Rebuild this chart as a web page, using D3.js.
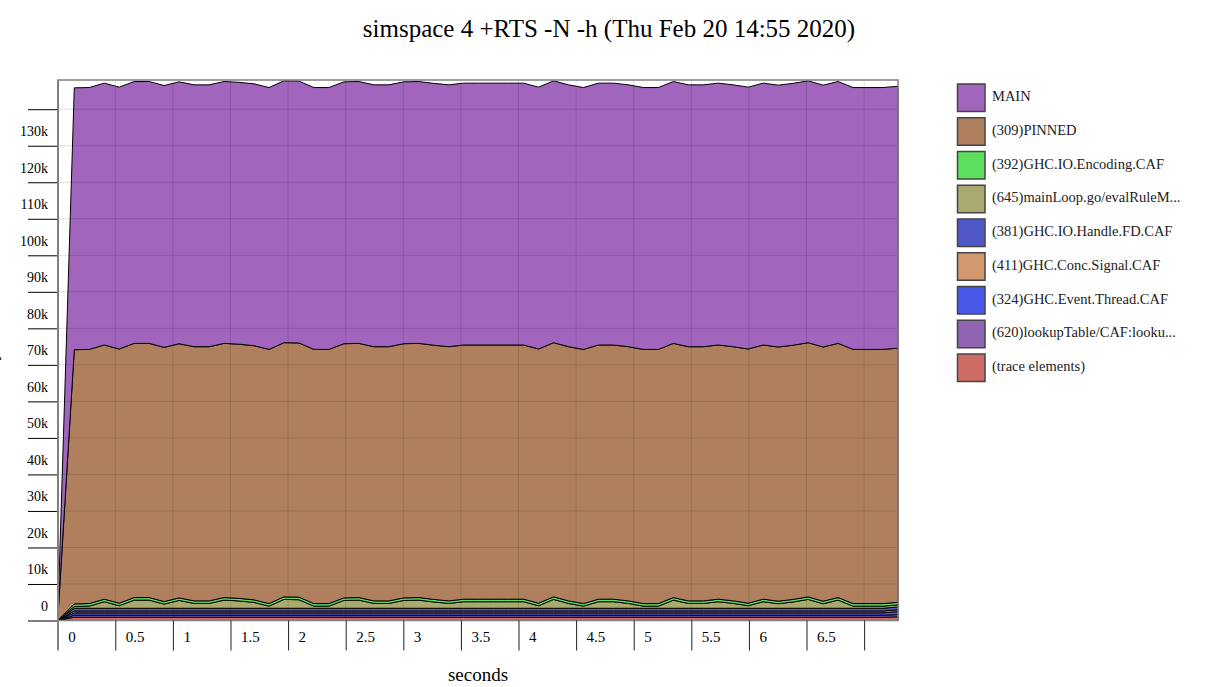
<!DOCTYPE html>
<html><head><meta charset="utf-8">
<script src="https://cdn.jsdelivr.net/npm/d3@7"></script>
<style>body{margin:0;background:#fff}svg{display:block}</style>
</head><body>
<svg id="c" width="1216" height="687"></svg>
<script>
// ---- data ----
const seriesNames = ["(trace elements)", "(620)lookupTable/CAF:looku...", "(324)GHC.Event.Thread.CAF",
  "(411)GHC.Conc.Signal.CAF", "(381)GHC.IO.Handle.FD.CAF", "(645)mainLoop.go/evalRuleM...",
  "(392)GHC.IO.Encoding.CAF", "(309)PINNED", "MAIN"];
const seriesColors = ["#cc6c64", "#9064b0", "#4858e8", "#d2986e", "#5058c8", "#aaaa70", "#5de05d", "#b0805e", "#a165be"];

const times = [0,
  0.144, 0.274, 0.404, 0.534, 0.664, 0.794, 0.924, 1.054, 1.184, 1.314,
  1.444, 1.574, 1.704, 1.834, 1.964, 2.094, 2.224, 2.354, 2.484, 2.614,
  2.744, 2.874, 3.004, 3.134, 3.264, 3.394, 3.524, 3.654, 3.784, 3.914,
  4.044, 4.174, 4.304, 4.434, 4.564, 4.694, 4.824, 4.954, 5.084, 5.214,
  5.344, 5.474, 5.604, 5.734, 5.864, 5.994, 6.124, 6.254, 6.384, 6.514,
  6.644, 6.774, 6.904, 7.034, 7.164, 7.294];

const traceElements = [0,
  900,900,900,900,900,900,900,900,900,900,
  900,900,900,900,900,900,900,900,900,900,
  900,900,900,900,900,900,900,900,900,900,
  900,900,900,900,900,900,900,900,900,900,
  900,900,900,900,900,900,900,900,900,900,
  900,900,900,900,900,1000];
const lookupTable = [0,
  550,550,550,550,550,550,550,550,550,550,
  550,550,550,550,550,550,550,550,550,550,
  550,550,550,550,550,550,550,550,550,550,
  550,550,550,550,550,550,550,550,550,550,
  550,550,550,550,550,550,550,550,550,550,
  550,550,550,550,550,600];
const eventThread = [0,
  650,650,650,650,650,650,650,650,650,650,
  650,650,650,650,650,650,650,650,650,650,
  650,650,650,650,650,650,650,650,650,650,
  650,650,650,650,650,650,650,650,650,650,
  650,650,650,650,650,650,650,650,650,650,
  650,650,650,650,650,850];
const concSignal = [0,
  500,500,500,500,500,500,500,500,500,500,
  500,500,500,500,500,500,500,500,500,500,
  500,500,500,500,500,500,500,500,500,500,
  500,500,500,500,500,500,500,500,500,500,
  500,500,500,500,500,500,500,500,500,500,
  500,500,500,500,500,500];
const handleFD = [0,
  750,750,750,750,750,750,750,750,750,750,
  750,750,750,750,750,750,750,750,750,750,
  750,750,750,750,750,750,750,750,750,750,
  750,750,750,750,750,750,750,750,750,750,
  750,750,750,750,750,750,750,750,750,750,
  750,750,750,750,750,750];
const mainLoop = [0,
  500,580,1790,690,2230,2230,1130,2140,1320,1320,
  2230,2010,1600,580,2420,2340,580,580,2140,2230,
  1320,1320,2140,2230,1730,1320,1790,1790,1790,1790,
  1790,690,2420,1320,580,1790,1790,1320,580,580,
  2230,1320,1320,1790,1320,690,1790,1240,1730,2420,
  1240,2230,580,580,580,580];
const ioEncoding = [0,
  700,700,700,700,700,700,700,700,700,700,
  700,700,700,700,700,700,700,700,700,700,
  700,700,700,700,700,700,700,700,700,700,
  700,700,700,700,700,700,700,700,700,700,
  700,700,700,700,700,700,700,700,700,700,
  700,700,700,700,700,700];
const pinned = [0,
  69600,69600,69600,69600,69600,69600,69600,69600,69600,69600,
  69600,69600,69600,69600,69600,69600,69600,69600,69600,69600,
  69600,69600,69600,69600,69600,69600,69600,69600,69600,69600,
  69600,69600,69600,69600,69600,69600,69600,69600,69600,69600,
  69600,69600,69600,69600,69600,69600,69600,69600,69600,69600,
  69600,69600,69600,69600,69600,69600];
const mainCC = [0,
  71700,71700,71700,71700,71700,71700,71700,71700,71700,71700,
  71700,71700,71700,71700,71700,71700,71700,71700,71700,71700,
  71700,71700,71700,71700,71700,71700,71700,71700,71700,71700,
  71700,71700,71700,71700,71700,71700,71700,71700,71700,71700,
  71700,71700,71700,71700,71700,71700,71700,71700,71700,71700,
  71700,71700,71700,71700,71700,71700];

const xTicks = [0, 0.5, 1, 1.5, 2, 2.5, 3, 3.5, 4, 4.5, 5, 5.5, 6, 6.5, 7];
const yTicks = [0, 10000, 20000, 30000, 40000, 50000, 60000, 70000, 80000, 90000, 100000, 110000, 120000, 130000, 140000];
const titleText = "simspace 4 +RTS -N -h (Thu Feb 20 14:55 2020)";

// ---- chart ----
const FONT = "'Liberation Serif','Times New Roman',serif";
const svg = d3.select("#c");
const L = 58, R = 898, T = 80, B = 620.5;
const x = d3.scaleLinear().domain([0, 7.294]).range([57.7, R]);
const y = d3.scaleLinear().domain([0, 148000]).range([B, T]);

const valueArrays = [traceElements, lookupTable, eventThread, concSignal, handleFD, mainLoop, ioEncoding, pinned, mainCC];
const rows = times.map((t, i) => {
  const o = {t};
  seriesNames.forEach((k, j) => o[k] = valueArrays[j][i]);
  return o;
});
const stacked = d3.stack().keys(seriesNames)(rows);
const area = d3.area().x(d => x(d.data.t)).y0(d => y(d[0])).y1(d => y(d[1]));

svg.append("text").attr("x", 609).attr("y", 37).attr("text-anchor", "middle")
  .attr("font-family", FONT).attr("font-size", 25).text(titleText);

svg.append("g").selectAll("path").data(stacked).join("path")
  .attr("d", area).attr("fill", (d, i) => seriesColors[i])
  .attr("stroke", "#000").attr("stroke-width", 1).attr("stroke-linejoin", "round");

// grid
const grid = svg.append("g").attr("stroke", "rgba(0,0,0,0.13)").attr("stroke-width", 1);
grid.selectAll(".v").data(xTicks).join("line")
  .attr("x1", d => x(d)).attr("x2", d => x(d)).attr("y1", T).attr("y2", B);
grid.selectAll(".h").data(yTicks).join("line")
  .attr("x1", L).attr("x2", R).attr("y1", d => y(d)).attr("y2", d => y(d));

// border
svg.append("rect").attr("x", L).attr("y", T).attr("width", R - L).attr("height", B - T)
  .attr("fill", "none").attr("stroke", "#808080").attr("stroke-width", 1.5);

// y axis
const yAxis = svg.append("g").attr("transform", `translate(${L},0)`)
  .call(d3.axisLeft(y).tickValues(yTicks).tickSize(30)
    .tickFormat(d => d === 140000 ? "" : (d === 0 ? "0" : (d / 1000) + "k")));
yAxis.select(".domain").remove();
yAxis.selectAll(".tick line").attr("stroke", "#000");
yAxis.selectAll(".tick text").attr("x", -10).attr("y", -10).attr("dy", 0)
  .attr("font-family", FONT).attr("font-size", 14).attr("fill", "#000");

// x axis
const xAxis = svg.append("g").attr("transform", `translate(0,${B})`)
  .call(d3.axisBottom(x).tickValues(xTicks).tickSize(30)
    .tickFormat(d => d === 7 ? "" : String(d)));
xAxis.select(".domain").remove();
xAxis.selectAll(".tick line").attr("stroke", "#222");
xAxis.selectAll(".tick text").attr("x", 10).attr("y", 21.5).attr("dy", 0)
  .attr("text-anchor", "start").attr("font-family", FONT).attr("font-size", 15).attr("fill", "#000");

svg.append("line").attr("x1", L).attr("x2", L).attr("y1", T).attr("y2", 650)
  .attr("stroke", "#808080").attr("stroke-width", 2);

svg.append("text").attr("x", 478).attr("y", 681).attr("text-anchor", "middle")
  .attr("font-family", FONT).attr("font-size", 19).text("seconds");
svg.append("text").attr("transform", "translate(-3,350) rotate(-90)").attr("text-anchor", "middle")
  .attr("font-family", FONT).attr("font-size", 19).text("bytes");

// legend
const legendItems = seriesNames.map((n, i) => ({n, c: seriesColors[i]})).reverse();
const lg = svg.append("g").selectAll("g").data(legendItems).join("g")
  .attr("transform", (d, i) => `translate(957.5,${84 + i * 33.75})`);
lg.append("rect").attr("width", 27.5).attr("height", 27.5)
  .attr("fill", d => d.c).attr("stroke", "#444").attr("stroke-width", 1.5);
lg.append("text").attr("x", 34.5).attr("y", 17).attr("font-family", FONT).attr("font-size", 14.5)
  .attr("fill", "#222").text(d => d.n);
</script>
</body></html>
